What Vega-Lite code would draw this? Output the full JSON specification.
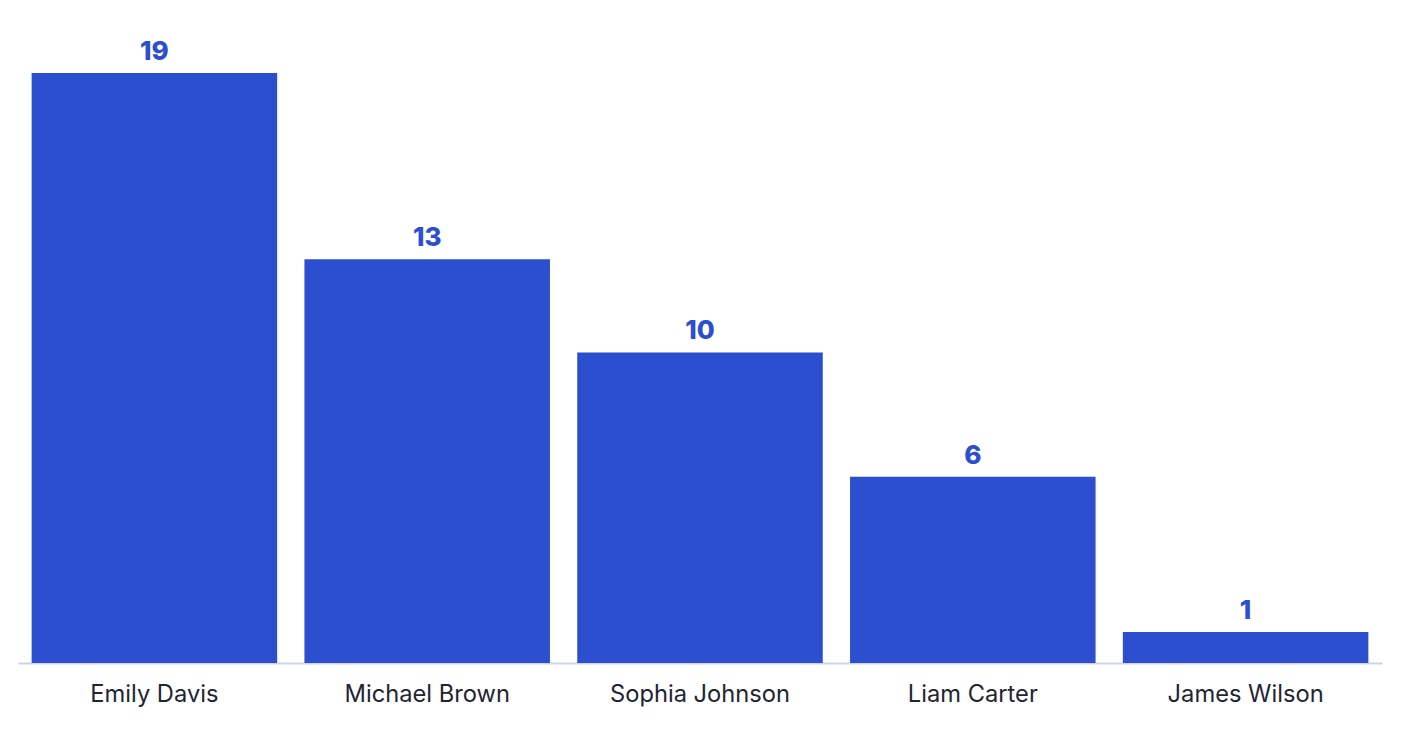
{
  "$schema": "https://vega.github.io/schema/vega-lite/v6.json",
  "width": 1364,
  "height": 590,
  "autosize": {"type": "none"},
  "padding": {"left": 18, "top": 73, "right": 22, "bottom": 73},
  "background": "white",
  "data": {"values": [
    {"name": "Emily Davis", "count": 19},
    {"name": "Michael Brown", "count": 13},
    {"name": "Sophia Johnson", "count": 10},
    {"name": "Liam Carter", "count": 6},
    {"name": "James Wilson", "count": 1}
  ]},
  "config": {"view": {"stroke": null}, "font": "Inter"},
  "encoding": {
    "x": {"field": "name", "type": "nominal", "sort": null,
      "scale": {"paddingInner": 0.1, "paddingOuter": 0.05},
      "axis": {"title": null, "labelAngle": 0, "ticks": false, "domainColor": "#cbd5e8", "domainWidth": 2,
        "labelFont": "Inter", "labelFontSize": 23.7, "labelColor": "#1f2533", "labelPadding": 19, "labelLimit": 0, "grid": false}},
    "y": {"field": "count", "type": "quantitative", "scale": {"domain": [0, 19], "nice": false}, "axis": null}
  },
  "layer": [
    {"mark": {"type": "bar", "color": "#2b4fcf"}},
    {"mark": {"type": "text", "baseline": "alphabetic", "dy": -13, "font": "Inter", "fontSize": 26, "fontWeight": 800, "color": "#2b4fcf"},
     "encoding": {"text": {"field": "count", "type": "quantitative"}}}
  ]
}
